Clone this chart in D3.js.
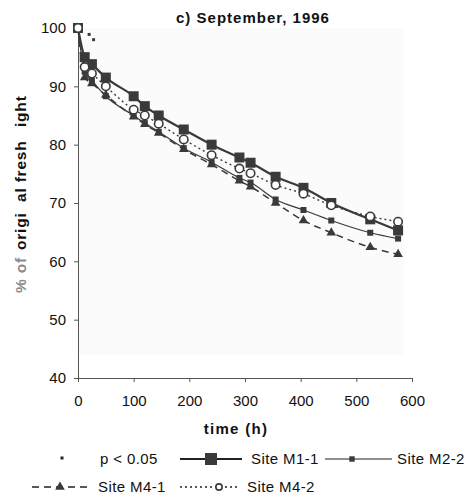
<!DOCTYPE html>
<html><head><meta charset="utf-8">
<script src="https://cdn.jsdelivr.net/npm/d3@7"></script>
<style>body{margin:0;background:#fff}svg{display:block}text{font-family:"Liberation Sans",Arial,sans-serif}</style>
</head><body><div id="chart"></div>
<script>
const times = [0, 12, 25, 50, 100, 120, 145, 190, 240, 290, 310, 355, 405, 455, 525, 575];
const siteM11 = [100, 95.0, 93.8, 91.5, 88.3, 86.6, 85.0, 82.6, 80.0, 77.8, 76.9, 74.5, 72.6, 70.0, 67.2, 65.3];
const siteM22 = [100, 92.5, 91.0, 88.3, 85.0, 83.7, 82.2, 79.4, 77.0, 74.3, 73.5, 70.6, 68.8, 67.0, 64.9, 63.9];
const siteM41 = [100, 91.5, 90.5, 88.5, 84.8, 83.5, 82.0, 79.2, 76.6, 73.8, 72.8, 70.0, 67.0, 64.9, 62.4, 61.2];
const siteM42 = [100, 93.3, 92.2, 90.0, 86.0, 85.0, 83.6, 80.9, 78.2, 75.9, 75.1, 73.1, 71.6, 69.6, 67.7, 66.8];
const pTimes = [20, 28];
const pValues = [98.9, 98.0];
const xTicks = [0, 100, 200, 300, 400, 500, 600];
const yTicks = [40, 50, 60, 70, 80, 90, 100];

const W = 470, H = 495;
const svg = d3.select("#chart").append("svg").attr("width", W).attr("height", H);
const x = d3.scaleLinear().domain([0, 600]).range([78, 412]);
const y = d3.scaleLinear().domain([40, 100]).range([378, 28]);
const ink = "#3a3a3a";

// faint plot background
svg.append("rect").attr("x", x(0)).attr("y", y(100)).attr("width", x(585) - x(0)).attr("height", y(44) - y(100)).attr("fill", "#fbfbfb");

// axes
const yAxis = svg.append("g").attr("transform", `translate(${x(0)},0)`)
  .call(d3.axisLeft(y).tickValues(yTicks).tickSize(4).tickPadding(8));
const xAxis = svg.append("g").attr("transform", `translate(0,${y(40)})`)
  .call(d3.axisBottom(x).tickValues(xTicks).tickSize(4).tickPadding(13));
[yAxis, xAxis].forEach(g => {
  g.select(".domain").attr("stroke", "#555").attr("stroke-width", 1);
  g.selectAll(".tick line").attr("stroke", "#555");
  g.selectAll("text").attr("font-size", 15).attr("fill", "#111").attr("font-family", "Liberation Sans, Arial, sans-serif");
});

const series = [
  {name: "Site M1-1", vals: siteM11, w: 2.2, dash: null, sym: "bigsq"},
  {name: "Site M2-2", vals: siteM22, w: 1.2, dash: null, sym: "smsq"},
  {name: "Site M4-1", vals: siteM41, w: 1.5, dash: "7,5", sym: "tri"},
  {name: "Site M4-2", vals: siteM42, w: 1.4, dash: "2,3", sym: "circ"}
];

function drawSym(g, sym, cx, cy, k) {
  k = k || 1;
  if (sym === "bigsq") g.append("rect").attr("x", cx - 5 * k).attr("y", cy - 5 * k).attr("width", 10 * k).attr("height", 10 * k).attr("fill", ink);
  else if (sym === "smsq") g.append("rect").attr("x", cx - 3 * k).attr("y", cy - 3 * k).attr("width", 6 * k).attr("height", 6 * k).attr("fill", ink);
  else if (sym === "tri") g.append("path").attr("d", d3.symbol(d3.symbolTriangle, 40 * k * k)()).attr("transform", `translate(${cx},${cy})`).attr("fill", ink);
  else if (sym === "circ") g.append("circle").attr("cx", cx).attr("cy", cy).attr("r", 4.2 * k).attr("fill", "#fff").attr("stroke", ink).attr("stroke-width", 1.6);
}

const line = d3.line().x(d => x(d[0])).y(d => y(d[1])).curve(d3.curveMonotoneX);
series.forEach(s => {
  const pts = times.map((t, i) => [t, s.vals[i]]);
  svg.append("path").attr("d", line(pts)).attr("fill", "none").attr("stroke", ink)
    .attr("stroke-width", s.w).attr("stroke-dasharray", s.dash);
});
series.forEach(s => {
  const g = svg.append("g");
  times.forEach((t, i) => drawSym(g, s.sym, x(t), y(s.vals[i])));
});
// p < 0.05 markers
pTimes.forEach((t, i) => svg.append("rect").attr("x", x(t) - 1.5).attr("y", y(pValues[i]) - 1.5).attr("width", 3).attr("height", 3).attr("fill", ink));

// title
svg.append("text").attr("x", 253).attr("y", 23).attr("text-anchor", "middle")
  .attr("font-size", 15).attr("font-weight", "bold").attr("letter-spacing", 1.0).attr("fill", "#111")
  .text("c) September, 1996");

// y label (pieces, rotated)
const ylab = [
  {t: "% of", y0: 293, c: "#8a8a8a"},
  {t: "origi", y0: 250, c: "#111"},
  {t: "al fresh", y0: 202, c: "#111"},
  {t: "ight", y0: 127, c: "#111"}
];
ylab.forEach(p => svg.append("text").attr("transform", `translate(26,${p.y0}) rotate(-90)`)
  .attr("font-size", 15.5).attr("font-weight", "bold").attr("letter-spacing", 0.8).attr("fill", p.c).text(p.t));

// x label
svg.append("text").attr("x", 236).attr("y", 434).attr("text-anchor", "middle")
  .attr("font-size", 15).attr("font-weight", "bold").attr("letter-spacing", 1.3).attr("fill", "#111").text("time (h)");

// legend
const lg = svg.append("g").attr("font-size", 15).attr("letter-spacing", 0.4).attr("fill", "#111");
function legItem(x0, x1, xm, yy, s, k, label, tx) {
  lg.append("line").attr("x1", x0).attr("x2", x1).attr("y1", yy).attr("y2", yy).attr("stroke", "#222")
    .attr("stroke-width", s.w).attr("stroke-dasharray", s.dash);
  drawSym(lg, s.sym, xm, yy, k);
  lg.append("text").attr("x", tx).attr("y", yy + 5).text(label);
}
lg.append("rect").attr("x", 60.5).attr("y", 456.5).attr("width", 3).attr("height", 3).attr("fill", "#222");
lg.append("text").attr("x", 100).attr("y", 464).text("p < 0.05");
legItem(180, 242, 211, 459, series[0], 1.2, "Site M1-1", 251);
legItem(325, 392, 352, 459, series[1], 0.9, "Site M2-2", 397);
legItem(32, 90, 60, 487, series[2], 1.0, "Site M4-1", 98);
legItem(180, 240, 219, 487, series[3], 0.75, "Site M4-2", 247);
</script></body></html>
